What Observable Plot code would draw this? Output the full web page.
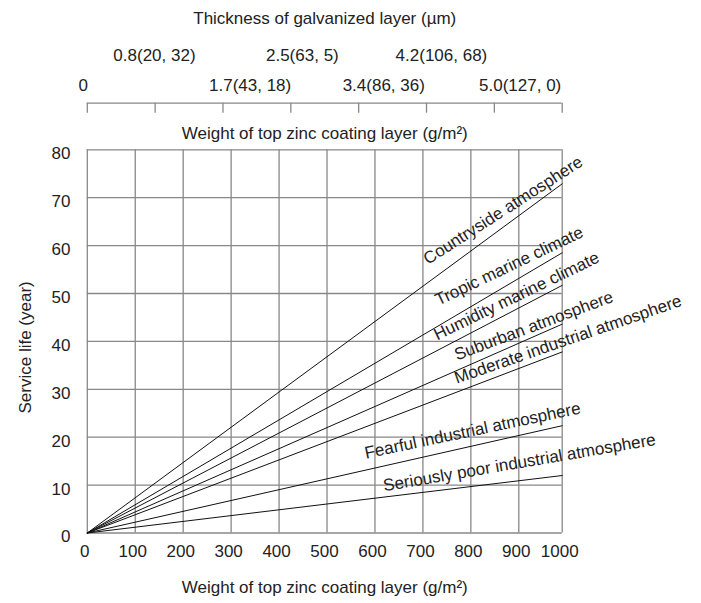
<!DOCTYPE html>
<html>
<head>
<meta charset="utf-8">
<script src="https://cdn.jsdelivr.net/npm/d3@7"></script>
<script src="https://cdn.jsdelivr.net/npm/@observablehq/plot@0.6"></script>
<style>
  body { margin: 0; background: #fff; }
  #chart svg { display: block; }
</style>
</head>
<body>
<div id="chart"></div>
<script>
// ---- data ----
const seriesNames = [
  "Countryside atmosphere",
  "Tropic marine climate",
  "Humidity marine climate",
  "Suburban atmosphere",
  "Moderate industrial atmosphere",
  "Fearful industrial atmosphere",
  "Seriously poor industrial atmosphere"
];
const lifeAtMaxWeight = [72.9, 58.5, 51.7, 43.6, 37.8, 22.4, 12.0];   // years at 1000 g/m2
const weightEnds = [0, 1000];                                          // lines run from origin to 1000 g/m2
const xTickValues = [0, 100, 200, 300, 400, 500, 600, 700, 800, 900, 1000];
const yTickValues = [0, 10, 20, 30, 40, 50, 60, 70, 80];
const topTickIndex = [0, 1, 2, 3, 4, 5, 6, 7];
const topLabels = ["0", "0.8(20, 32)", "1.7(43, 18)", "2.5(63, 5)", "3.4(86, 36)", "4.2(106, 68)", "5.0(127, 0)"];
const topLabelAt = [-0.06, 0.99, 2.40, 3.17, 4.37, 5.22, 6.38];        // in top-axis tick units
const topLabelRow = [2, 1, 2, 1, 2, 1, 2];

// ---- annotation layout (line labels) ----
const labelAlong = [0.892, 0.904, 0.915, 0.948, 1.019, 0.818, 0.915];  // fraction along each line
const labelGap   = [8.2, 10.1, 6.2, 4.5, 4.2, 9.5, 12.4];               // px above the line
const labelAngle = [32.7, 25.5, 25.8, 20.6, 19.1, 11.9, 9.7];           // text tilt, degrees

// ---- style / layout ----
const FONT = "'Liberation Sans', Arial, Helvetica, sans-serif";
const FS = 17;
const INK = "#222";
const GRID = "#888";
const W = 701;
const ML = 86.8, MR = 139.3;
const X900 = 518.3;                 // the last grid column is narrower in the original
const xRange = [ML, X900, W - MR];

// ---- top (secondary) axis ----
const TOP_H = 144;
const topTable = topLabels.map((t, i) => ({t, at: topLabelAt[i], row: topLabelRow[i]}));
const topAxisChart = Plot.plot({
  width: W, height: TOP_H,
  marginLeft: ML, marginRight: MR, marginTop: 102.7, marginBottom: TOP_H - 112.7,
  x: {type: "linear", domain: [0, 7], axis: null},
  y: {type: "linear", domain: [0, 1], axis: null},
  style: {background: "white", overflow: "visible"},
  marks: [
    Plot.ruleY([1], {stroke: GRID, strokeWidth: 1.3}),
    Plot.ruleX(topTickIndex, {x: d => d, stroke: GRID, strokeWidth: 1.3}),
    Plot.text(["Thickness of galvanized layer (\u00b5m)"], {frameAnchor: "top", dy: -84.4, textAnchor: "middle", lineAnchor: "middle", fontSize: FS, fontFamily: FONT, fill: INK}),
    Plot.text(topTable.filter(d => d.row === 1), {x: "at", text: "t", frameAnchor: "top", dy: -47.7, textAnchor: "middle", lineAnchor: "middle", fontSize: FS, fontFamily: FONT, fill: INK}),
    Plot.text(topTable.filter(d => d.row === 2), {x: "at", text: "t", frameAnchor: "top", dy: -17.7, textAnchor: "middle", lineAnchor: "middle", fontSize: FS, fontFamily: FONT, fill: INK}),
    Plot.text(["Weight of top zinc coating layer (g/m\u00b2)"], {frameAnchor: "bottom", dy: 20.6, textAnchor: "middle", lineAnchor: "middle", fontSize: FS, fontFamily: FONT, fill: INK})
  ]
});

// ---- main chart ----
const H = 603 - TOP_H;
const MT = 149.3 - TOP_H;
const MB = H - (532.5 - TOP_H);

const lineData = seriesNames.flatMap((name, i) =>
  weightEnds.map(w => ({name, w, life: lifeAtMaxWeight[i] * w / weightEnds[1]})));

const xs = d3.scaleLinear().domain([0, 900, 1000]).range(xRange);
const ys = d3.scaleLinear().domain([0, 80]).range([H - MB, MT]);

const labelMarks = seriesNames.map((name, i) => {
  const v = lifeAtMaxWeight[i], f = labelAlong[i];
  const X0 = xs(0), X1 = xs(1000), Y0 = ys(0), Y1 = ys(v);
  const theta = Math.atan2(Y0 - Y1, X1 - X0);       // screen angle of the line
  const sx = X0 + f * (X1 - X0);
  const gap = labelGap[i];
  return Plot.text([{name, w: xs.invert(sx), life: v * f}], {
    x: "w", y: "life", text: "name",
    rotate: -labelAngle[i],
    textAnchor: "middle", lineAnchor: "bottom",
    dx: -gap * Math.sin(theta), dy: -gap * Math.cos(theta),
    fontSize: FS, fontFamily: FONT, fill: INK
  });
});

const mainChart = Plot.plot({
  width: W, height: H,
  marginLeft: ML, marginRight: MR, marginTop: MT, marginBottom: MB,
  x: {type: "linear", domain: [0, 900, 1000], range: xRange, axis: null},
  y: {type: "linear", domain: [0, 80], axis: null},
  style: {background: "white", overflow: "visible"},
  marks: [
    Plot.ruleX(xTickValues, {x: d => d, stroke: GRID, strokeWidth: 1.3}),
    Plot.ruleY(yTickValues, {y: d => d, stroke: GRID, strokeWidth: 1.3}),
    Plot.line(lineData, {x: "w", y: "life", z: "name", stroke: "#111", strokeWidth: 1}),
    Plot.text(xTickValues, {x: d => d, text: d => String(d), frameAnchor: "bottom", dy: 18.2, dx: -2.5, textAnchor: "middle", lineAnchor: "middle", fontSize: FS, fontFamily: FONT, fill: INK}),
    Plot.text(yTickValues, {y: d => d, text: d => String(d), frameAnchor: "left", dx: -16.8, dy: 4, textAnchor: "end", lineAnchor: "middle", fontSize: FS, fontFamily: FONT, fill: INK}),
    Plot.text(["Service life (year)"], {frameAnchor: "left", rotate: -90, dx: -61.8, dy: 6, textAnchor: "middle", lineAnchor: "middle", fontSize: FS, fontFamily: FONT, fill: INK}),
    Plot.text(["Weight of top zinc coating layer (g/m\u00b2)"], {frameAnchor: "bottom", dy: 54.5, textAnchor: "middle", lineAnchor: "middle", fontSize: FS, fontFamily: FONT, fill: INK}),
    ...labelMarks
  ]
});

const chart = document.getElementById("chart");
chart.appendChild(topAxisChart);
chart.appendChild(mainChart);
</script>
</body>
</html>
